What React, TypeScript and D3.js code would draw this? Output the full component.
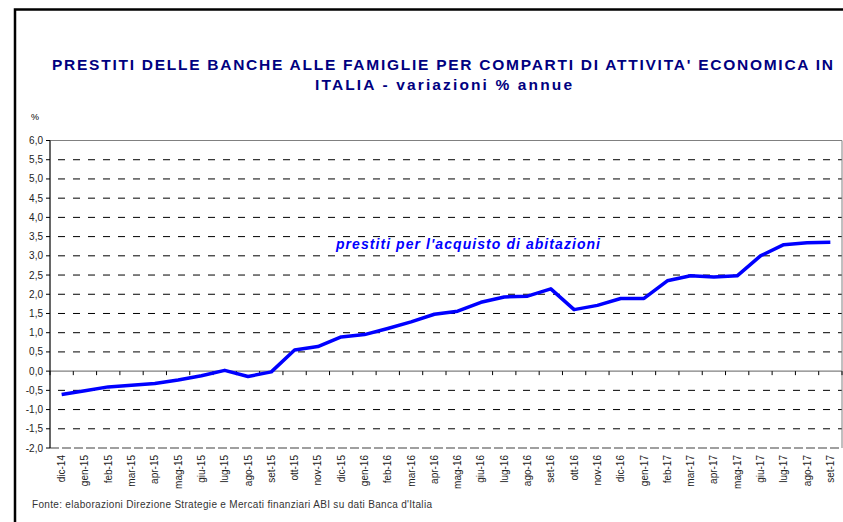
import React from "react";
import * as d3 from "d3";

const categories = [
  "dic-14","gen-15","feb-15","mar-15","apr-15","mag-15","giu-15","lug-15","ago-15","set-15","ott-15","nov-15",
  "dic-15","gen-16","feb-16","mar-16","apr-16","mag-16","giu-16","lug-16","ago-16","set-16","ott-16","nov-16",
  "dic-16","gen-17","feb-17","mar-17","apr-17","mag-17","giu-17","lug-17","ago-17","set-17",
];
const values = [
  -0.61,-0.51,-0.41,-0.37,-0.32,-0.23,-0.12,0.02,-0.14,-0.02,0.55,0.64,
  0.89,0.95,1.11,1.28,1.48,1.56,1.79,1.93,1.95,2.14,1.60,1.71,
  1.89,1.89,2.35,2.48,2.45,2.48,3.00,3.29,3.34,3.35,
];
const yTicks = [-2,-1.5,-1,-0.5,0,0.5,1,1.5,2,2.5,3,3.5,4,4.5,5,5.5,6];
const titleLines = [
  "PRESTITI DELLE BANCHE ALLE FAMIGLIE PER COMPARTI DI ATTIVITA' ECONOMICA IN",
  "ITALIA - variazioni % annue",
];
const seriesLabel = "prestiti per l'acquisto di abitazioni";
const source = "Fonte: elaborazioni  Direzione Strategie e Mercati finanziari ABI su dati Banca d'Italia";

export default function App() {
  const W = 843, H = 522;
  const x = d3.scaleBand().domain(categories).range([50, 842]).padding(0);
  const y = d3.scaleLinear().domain([-2, 6]).range([448, 140.5]);
  const font = "'Liberation Sans', Arial, sans-serif";
  const line = d3.line<number>()
    .x((_, i) => (x(categories[i]) as number) + x.bandwidth() / 2)
    .y((d) => y(d));
  const fmt = (v: number) => v.toFixed(1).replace(".", ",");
  const boundaries = categories.map((c) => x(c) as number).concat([842]);

  return (
    <svg width={W} height={H} style={{ position: "absolute", left: 0, top: 0 }} fontFamily={font}>
      <rect x={0} y={0} width={W} height={H} fill="#fff" />
      <rect x={15} y={9.5} width={W + 20} height={H + 20} fill="none" stroke="#000" strokeWidth={2.5} />
      <text x={442.5} y={69.5} textAnchor="middle" fontSize={15.5} fontWeight="bold" fill="#000080"
        textLength={781} lengthAdjust="spacing">{titleLines[0]}</text>
      <text x={443.5} y={89.5} textAnchor="middle" fontSize={15.5} fontWeight="bold" fill="#000080"
        textLength={257} lengthAdjust="spacing">{titleLines[1]}</text>
      <text x={31} y={120} fontSize={9} fill="#000">%</text>

      {yTicks.filter((t) => t !== 0 && t !== 6 && t !== -2).map((t) => (
        <line key={"g" + t} x1={50} x2={842} y1={y(t)} y2={y(t)} stroke="#000" strokeWidth={1}
          strokeDasharray="7,8" strokeDashoffset={-8} />
      ))}
      <line x1={50} x2={842} y1={y(6)} y2={y(6)} stroke="#808080" strokeWidth={1} />
      <line x1={842} x2={842} y1={y(6)} y2={y(-2)} stroke="#808080" strokeWidth={1} />
      <line x1={50} x2={842} y1={y(-2)} y2={y(-2)} stroke="#808080" strokeWidth={1.5} strokeDasharray="9,3" />
      <line x1={50} x2={842} y1={y(0)} y2={y(0)} stroke="#808080" strokeWidth={1.2} />
      {boundaries.map((b, i) => (
        <line key={"xt" + i} x1={b} x2={b} y1={y(0)} y2={y(0) + 4} stroke="#000" strokeWidth={1} />
      ))}
      <line x1={50} x2={50} y1={y(6)} y2={y(-2)} stroke="#000" strokeWidth={1.2} />
      {yTicks.map((t) => (
        <g key={"yt" + t}>
          <line x1={46} x2={50} y1={y(t)} y2={y(t)} stroke="#000" strokeWidth={1} />
          <text x={43} y={y(t) + 3.5} textAnchor="end" fontSize={10} fill="#222">{fmt(t)}</text>
        </g>
      ))}
      {categories.map((c) => {
        const cx = (x(c) as number) + x.bandwidth() / 2;
        return (
          <text key={c} transform={`translate(${cx + 3.5},455) rotate(-90)`} textAnchor="end" fontSize={10} fill="#222">{c}</text>
        );
      })}
      <path d={line(values) || ""} fill="none" stroke="#0000ff" strokeWidth={3.5} strokeLinejoin="round" />
      <text x={336} y={248.5} fontSize={14} fontWeight="bold" fontStyle="italic" fill="#0000ff"
        textLength={264} lengthAdjust="spacing">{seriesLabel}</text>
      <text x={32} y={508} fontSize={10} fill="#333" textLength={400} lengthAdjust="spacing">{source}</text>
    </svg>
  );
}
